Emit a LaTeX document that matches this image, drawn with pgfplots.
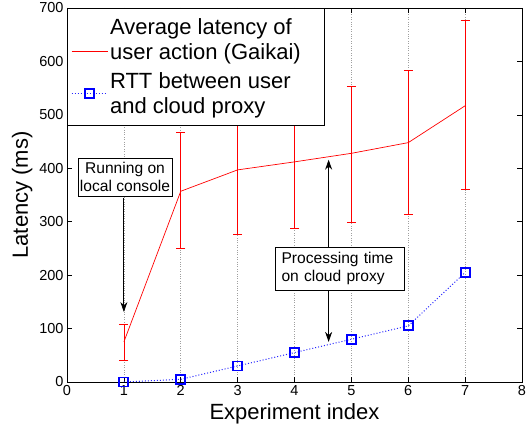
\documentclass[border=0pt]{standalone}
\usepackage{fontspec}
\setmainfont{Liberation Sans}
\usepackage{pgfplots}
\pgfplotsset{compat=1.18}
\usetikzlibrary{calc,arrows.meta}
\begin{document}
\begin{tikzpicture}
\begin{axis}[
 name=ax,
 scale only axis, width=455pt, height=374pt,
 xmin=0, xmax=8, ymin=0, ymax=700,
 xtick={0,1,...,8}, ytick={0,100,...,700},
 xmajorgrids, major grid style={dotted, gray!75, line width=0.6pt},
 tick style={black, line width=0.6pt}, major tick length=5pt,
 axis line style={line width=0.8pt},
 tick label style={font=\fontsize{14.5}{17}\selectfont},
 /pgf/number format/assume math mode=true,
 label style={font=\fontsize{22}{26}\selectfont},
 xlabel={Experiment index}, ylabel={Latency (ms)},
 xlabel style={yshift=-1pt},
 legend style={at={(0,1)}, anchor=north west, font=\fontsize{22}{25}\selectfont,
   cells={align=left}, draw=black, fill=white, inner xsep=4pt, inner ysep=8pt, row sep=8pt},
 legend cell align=left,
 legend image code/.code={\draw[mark repeat=2,mark phase=2,#1] plot coordinates {(0cm,0cm) (0.63cm,0cm) (1.26cm,0cm)}; \path (0,-8pt) (0,8pt);},
]
\addlegendimage{legend image code/.code={\draw[red, line width=0.7pt] (0cm,-12pt) -- (1.26cm,-12pt); \path (0,-14pt) (0,14pt);}}
\addlegendentry{Average latency of\\user action (Gaikai)\hspace*{17pt}}
\addlegendimage{blue!85!white, dotted, line width=1pt, mark=square,
  mark options={solid, draw=blue, fill=none, line width=1.8pt, mark size=4.5pt}}
\addlegendentry{RTT between user\\and cloud proxy}
\addplot[red, line width=0.7pt, forget plot,
  error bars/.cd, y dir=both, y explicit,
  error bar style={red, line width=0.7pt},
  error mark options={rotate=90, mark size=4.5pt, red, line width=0.7pt}]
  table[x=x, y=y, y error plus=ep, y error minus=em] {
x y ep em
1 75 32 35
2 357 111 106
3 397 123 120
4 412 128 125
5 428 126 130
6 448 136 135
7 517 159 156
};
\addplot[blue!85!white, dotted, line width=1pt, mark=square, forget plot,
  mark options={solid, draw=blue, fill=none, line width=1.8pt, mark size=4.5pt}]
  table[x=x, y=y] {
x y
1 0
2 5
3 30
4 55
5 80
6 105
7 205
};
\draw[{Stealth[length=10pt,width=7pt]}-{Stealth[length=10pt,width=7pt]}, line width=0.8pt] (axis cs:4.6,75) -- (axis cs:4.6,416);
\node[draw, fill=white, align=left, font=\fontsize{15.6}{18}\selectfont, line width=0.8pt,
  text width=117pt, inner xsep=6pt, inner ysep=5pt] at (axis cs:4.8,212) {Processing time\\on cloud proxy};
\draw[-{Stealth[length=10pt,width=7pt]}, line width=0.8pt] (axis cs:1,345) -- (axis cs:1,131);
\node[draw, fill=white, align=center, font=\fontsize{15.6}{18}\selectfont, line width=0.8pt,
  inner xsep=2pt, inner ysep=4pt] at (axis cs:1.02,383) {Running on\\local console};
\end{axis}
\pgfresetboundingbox
\path ($(ax.south west)+(-67pt,-48pt)$) rectangle ($(ax.north east)+(5pt,8pt)$);
\end{tikzpicture}
\end{document}
